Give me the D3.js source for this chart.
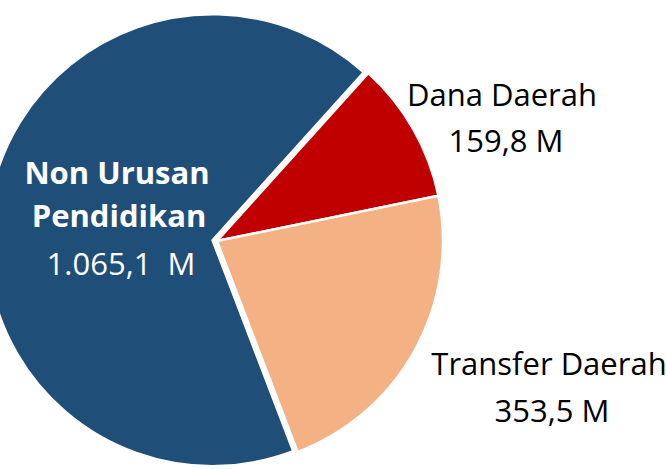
<!DOCTYPE html>
<html>
<head>
<meta charset="utf-8">
<script src="https://cdn.jsdelivr.net/npm/d3@7"></script>
<style>
  body { margin: 0; background: #fff; }
  svg { display: block; }
</style>
</head>
<body>
<div id="chart"></div>
<script>
const categories = ["Dana Daerah", "Transfer Daerah", "Non Urusan Pendidikan"];
const values = [159.8, 353.5, 1065.1];
const valueLabels = ["159,8 M", "353,5 M", "1.065,1  M"];
const colors = ["#C00000", "#F4B183", "#1F4E79"];

const width = 666, height = 469;
const cx = 217, cy = 241, radius = 226;

const svg = d3.select("#chart")
    .append("svg")
    .attr("width", width)
    .attr("height", height);

const data = categories.map((c, i) => ({ name: c, value: values[i], label: valueLabels[i], color: colors[i] }));

const pie = d3.pie()
    .sort(null)
    .startAngle(42 * Math.PI / 180)
    .endAngle(42 * Math.PI / 180 + 2 * Math.PI)
    .value(d => d.value);

const arc = d3.arc().innerRadius(0).outerRadius(radius);

const arcs = pie(data);

const g = svg.append("g").attr("transform", `translate(${cx},${cy})`);

// the big slice is pulled out a little
const explode = d => {
    if (d.data.name !== "Non Urusan Pendidikan") return "";
    const mid = (d.startAngle + d.endAngle) / 2;
    return `translate(${Math.sin(mid) * 4.5},${-Math.cos(mid) * 4.5})`;
};

g.selectAll("path")
    .data(arcs)
    .enter()
    .append("path")
    .attr("d", arc)
    .attr("transform", explode)
    .attr("fill", d => d.data.color)
    .attr("stroke", "#fff")
    .attr("stroke-width", 2.5)
    .attr("stroke-linejoin", "miter");

const font = "'Open Sans', 'DejaVu Sans', sans-serif";

// outside labels
const outside = [
    { lines: ["Dana Daerah", "159,8 M"], x: [502, 506], y: [106, 152], fill: "#000", weight: "normal" },
    { lines: ["Transfer Daerah", "353,5 M"], x: [549, 552], y: [375, 422], fill: "#000", weight: "normal" },
    { lines: ["Non Urusan", "Pendidikan", "1.065,1  M"], x: [117, 119, 121], y: [184, 227, 275], fill: "#fff", weight: ["bold", "bold", "normal"] }
];

outside.forEach(lb => {
    lb.lines.forEach((t, i) => {
        svg.append("text")
            .attr("x", lb.x[i])
            .attr("y", lb.y[i])
            .attr("text-anchor", "middle")
            .attr("font-family", font)
            .attr("font-size", "31px")
            .attr("font-weight", Array.isArray(lb.weight) ? lb.weight[i] : lb.weight)
            .attr("fill", lb.fill)
            .style("white-space", "pre")
            .text(t);
    });
});
</script>
</body>
</html>
